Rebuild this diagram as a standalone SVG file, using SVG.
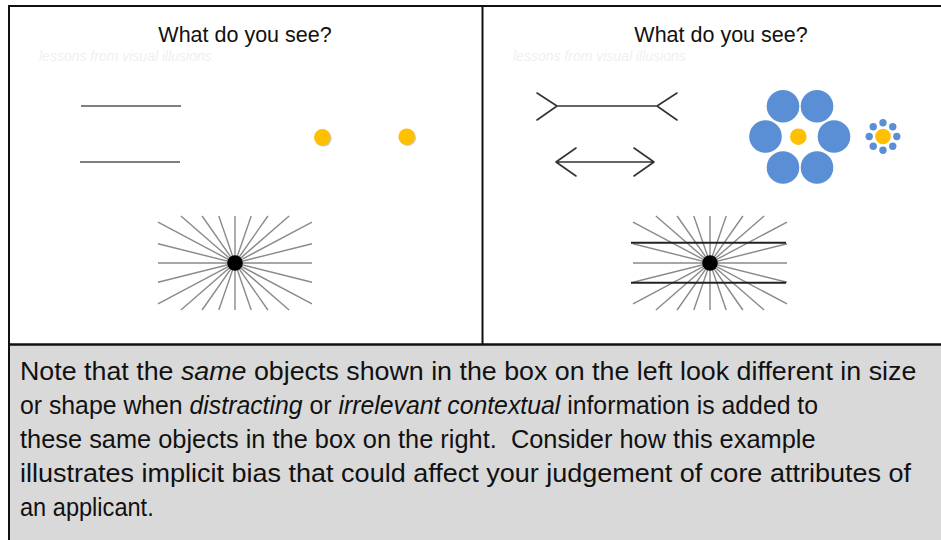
<svg xmlns="http://www.w3.org/2000/svg" width="941" height="540" viewBox="0 0 941 540">
<style>
.title{font-family:"Liberation Sans",Arial,sans-serif;font-size:21.5px;fill:#111}
.faint{font-family:"Liberation Sans",Arial,sans-serif;font-size:14px;font-style:italic;fill:#f0f0f0}
.body{font-family:"Liberation Sans",Arial,sans-serif;font-size:26.5px;fill:#111}
.ray{stroke:#8a8a8a;stroke-width:1.4;fill:none}
.bar{stroke:#555;stroke-width:1.6;fill:none}
.ml{stroke:#333;stroke-width:1.6;fill:none;stroke-linecap:round}
.hbar{stroke:#222;stroke-width:2;fill:none}
.yel{fill:#FFC000}
.shd{fill:#c8c8c8}
.blue{fill:#5A8FD6}
.frame{stroke:#111;fill:none}
</style>
<defs>
<g id="rays">
<line class="ray" x1="-77" y1="0" x2="77" y2="0"/>
<line class="ray" x1="-77" y1="-19.2" x2="77" y2="19.2"/>
<line class="ray" x1="-77" y1="19.2" x2="77" y2="-19.2"/>
<line class="ray" x1="-77" y1="-40.9" x2="77" y2="40.9"/>
<line class="ray" x1="-77" y1="40.9" x2="77" y2="-40.9"/>
<line class="ray" x1="-54.1" y1="-47" x2="54.1" y2="47"/>
<line class="ray" x1="-54.1" y1="47" x2="54.1" y2="-47"/>
<line class="ray" x1="-32.9" y1="-47" x2="32.9" y2="47"/>
<line class="ray" x1="-32.9" y1="47" x2="32.9" y2="-47"/>
<line class="ray" x1="-16.2" y1="-47" x2="16.2" y2="47"/>
<line class="ray" x1="-16.2" y1="47" x2="16.2" y2="-47"/>
<line class="ray" x1="0" y1="-47" x2="0" y2="47"/>
<circle r="7.8" fill="#000"/>
</g>
</defs>
<rect x="0" y="0" width="941" height="540" fill="#fff"/>
<rect x="9" y="345" width="932" height="195" fill="#D9D9D9"/>
<g id="frame">
<line class="frame" stroke-width="2" x1="8" y1="6" x2="941" y2="6"/>
<line class="frame" stroke-width="2" x1="9" y1="5" x2="9" y2="540"/>
<line class="frame" stroke-width="2" x1="482.5" y1="6" x2="482.5" y2="345"/>
<line class="frame" stroke-width="2.5" x1="9" y1="344.5" x2="941" y2="344.5"/>
</g>
<g id="left-panel">
<text class="faint" x="39" y="61">lessons from visual illusions</text>
<text class="title" x="245" y="42" text-anchor="middle">What do you see?</text>
<line class="bar" x1="81" y1="106" x2="181" y2="106"/>
<line class="bar" x1="80" y1="162" x2="180" y2="162"/>
<circle class="shd" cx="323.3" cy="138.3" r="8.3"/>
<circle class="yel" cx="322.3" cy="137.3" r="8.3"/>
<circle class="shd" cx="407.7" cy="137.7" r="8.3"/>
<circle class="yel" cx="406.7" cy="136.7" r="8.3"/>
<use href="#rays" x="235" y="263"/>
</g>
<g id="right-panel">
<text class="faint" x="513" y="61">lessons from visual illusions</text>
<text class="title" x="721" y="42" text-anchor="middle">What do you see?</text>
<path class="ml" d="M557 106 L657 106 M557 106 L537 93 M557 106 L537 120 M657 106 L677 93 M657 106 L677 120"/>
<path class="ml" d="M556 162 L654 162 M556 162 L576 148 M556 162 L576 176 M654 162 L634 148 M654 162 L634 176"/>
<g id="ebbinghaus-large">
<circle class="blue" cx="783" cy="106.3" r="16.3"/>
<circle class="blue" cx="817" cy="106.3" r="16.3"/>
<circle class="blue" cx="765.5" cy="136.5" r="16.3"/>
<circle class="blue" cx="834" cy="136.5" r="16.3"/>
<circle class="blue" cx="783" cy="167.5" r="16.3"/>
<circle class="blue" cx="817" cy="167.5" r="16.3"/>
<circle class="yel" cx="798.3" cy="136.7" r="8.3"/>
</g>
<g id="ebbinghaus-small" transform="translate(883 136.5)">
<circle class="blue" cx="0" cy="-13.8" r="3.7"/>
<circle class="blue" cx="9.76" cy="-9.76" r="3.7"/>
<circle class="blue" cx="13.8" cy="0" r="3.7"/>
<circle class="blue" cx="9.76" cy="9.76" r="3.7"/>
<circle class="blue" cx="0" cy="13.8" r="3.7"/>
<circle class="blue" cx="-9.76" cy="9.76" r="3.7"/>
<circle class="blue" cx="-13.8" cy="0" r="3.7"/>
<circle class="blue" cx="-9.76" cy="-9.76" r="3.7"/>
<circle class="yel" cx="0" cy="0" r="7.8"/>
</g>
<use href="#rays" x="710" y="263"/>
<line class="hbar" x1="631" y1="242.7" x2="786" y2="242.7"/>
<line class="hbar" x1="631" y1="282.7" x2="786" y2="282.7"/>
</g>
<g id="note">
<text class="body" transform="translate(20 380) scale(1.012 1)">Note that the <tspan font-style="italic">same</tspan> objects shown in the box on the left look different in size</text>
<text class="body" transform="translate(20 414) scale(0.936 1)">or shape when <tspan font-style="italic">distracting</tspan> or <tspan font-style="italic">irrelevant contextual</tspan> information is added to</text>
<text class="body" transform="translate(20 448) scale(0.958 1)" xml:space="preserve">these same objects in the box on the right.  Consider how this example</text>
<text class="body" transform="translate(20 482) scale(1.019 1)">illustrates implicit bias that could affect your judgement of core attributes of</text>
<text class="body" transform="translate(20 516) scale(0.89 1)">an applicant.</text>
</g>
</svg>
